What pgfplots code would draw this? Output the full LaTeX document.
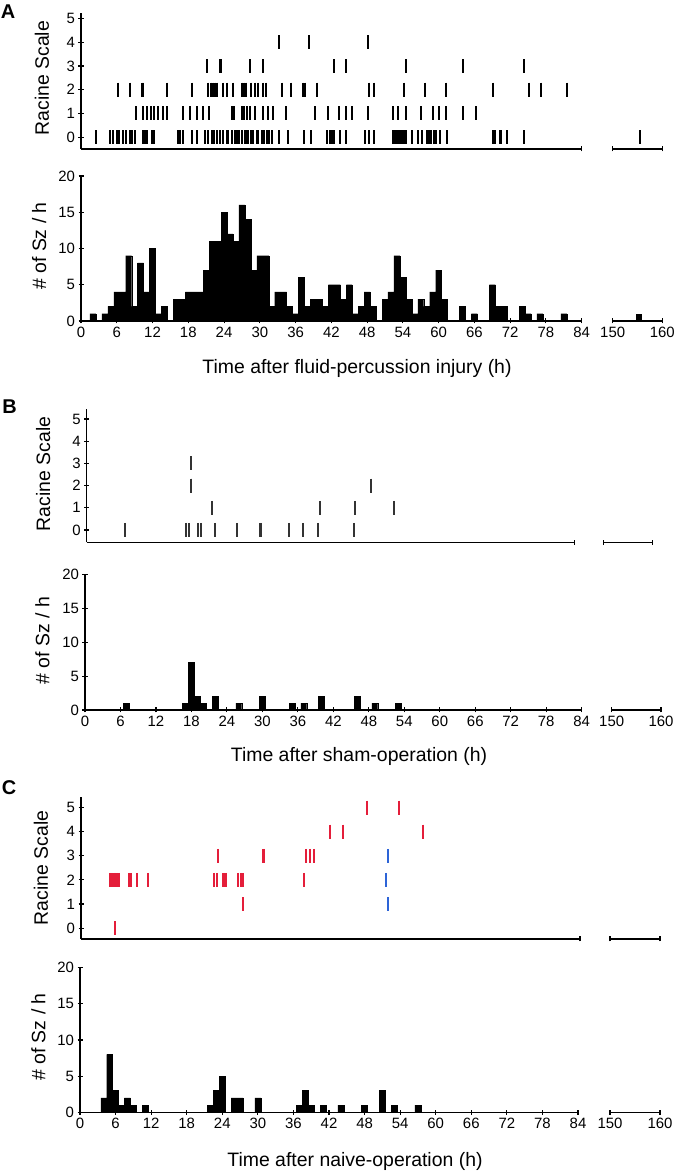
\documentclass[border=0pt]{standalone}
\usepackage{pgfplots}
\pgfplotsset{compat=1.18}
\usepackage{fontspec}
\setmainfont{Liberation Sans}
\definecolor{rred}{RGB}{228,30,58}
\definecolor{rblue}{RGB}{45,100,215}
\pgfplotsset{
  base/.style={scale only axis, anchor=south west, clip=false,
    tick style={line width=1.1bp, black},
    major tick length=5bp, tick align=outside,
    tick label style={font=\fontsize{15}{15}\selectfont},
    /pgf/number format/assume math mode=true,
    ylabel style={font=\fontsize{19.5}{20}\selectfont, anchor=center},
  },
  noarrows/.style={axis line style={line width=1.2bp,-},
    x axis line style={-}, y axis line style={-},
    every outer x axis line/.append style={-},
    every outer y axis line/.append style={-}},
  rast/.style={base, axis x line=bottom, axis y line=left, noarrows, xmin=0, xmax=84, xtick={84}, xticklabels={}, ytick={0,...,5}, ylabel={Racine Scale}},
  rastbrk/.style={base, axis x line=bottom, axis y line=none, noarrows, xmin=150, xmax=160, xtick={150,160}, xticklabels={}},
  hist/.style={base, axis x line=bottom, axis y line=left, noarrows, xmin=0, xmax=84, xtick={0,6,...,84}, ymin=0, ymax=20, ytick={0,5,...,20}, ylabel={\# of Sz / h}},
  histbrk/.style={base, axis x line=bottom, axis y line=none, noarrows, xmin=150, xmax=160, xtick={150,160}, ymin=0, ymax=20},
  tk/.style={only marks, mark=|, mark size=7bp, line width=2bp, mark options={line width=2bp}},
  bars/.style={ybar, bar width=1, fill=black, draw=black, line width=0.3bp},
}
\begin{document}
\begin{tikzpicture}
\useasboundingbox (0,0) rectangle (675bp,1173bp);
% ---------------- Panel A raster
\begin{axis}[rast, at={(81bp,1024bp)}, width=500.7bp, height=136.3bp, ymin=-0.5, ymax=5.25,
  ylabel style={at={(axis description cs:-0.078,0.52)}}]
\addplot[tk, black] table {
x y
2.46 0
4.87 0
5.43 0
5.98 0
6.43 0
6.99 0
7.55 0
8.22 0
8.50 0
9.06 0
10.35 0
10.74 0
11.02 0
11.86 0
12.25 0
16.33 0
16.61 0
17.06 0
18.57 0
19.41 0
20.81 0
21.36 0
21.92 0
22.32 0
22.76 0
23.32 0
23.88 0
24.44 0
24.72 0
25.28 0
25.84 0
26.23 0
26.57 0
26.96 0
27.52 0
27.80 0
28.08 0
28.47 0
28.91 0
29.47 0
29.75 0
30.31 0
30.70 0
31.15 0
31.60 0
31.99 0
33.28 0
34.79 0
37.42 0
38.53 0
41.22 0
41.78 0
42.1 0
42.4 0
43.4 0
44.5 0
47.7 0
48.4 0
49.1 0
52.3 0
52.7 0
53.0 0
53.2 0
53.5 0
53.8 0
54.2 0
54.6 0
55.5 0
56.6 0
57.2 0
58.0 0
58.4 0
58.8 0
59.2 0
59.6 0
60.2 0
61.4 0
69.1 0
69.5 0
70.3 0
70.5 0
71.4 0
74.4 0
9.17 1
10.35 1
11.02 1
11.69 1
12.30 1
12.98 1
13.70 1
14.37 1
17.17 1
18.29 1
19.41 1
20.53 1
21.53 1
25.39 1
25.73 1
27.07 1
27.40 1
27.80 1
28.36 1
29.19 1
30.59 1
31.43 1
32.27 1
34.34 1
39.26 1
41.50 1
43.2 1
44.5 1
45.4 1
48.1 1
52.4 1
53.1 1
54.6 1
57.0 1
59.0 1
60.1 1
61.2 1
64.1 1
66.2 1
6.26 2
8.22 2
10.29 2
10.46 2
14.37 2
18.57 2
21.36 2
21.76 2
22.09 2
22.48 2
22.87 2
23.77 2
24.44 2
25.56 2
27.07 2
27.40 2
27.63 2
28.52 2
29.14 2
29.75 2
30.48 2
31.04 2
33.67 2
35.18 2
37.30 2
37.58 2
39.54 2
48.3 2
49.2 2
54.2 2
57.7 2
61.2 2
69.1 2
75.2 2
77.2 2
81.6 2
21.2 3
23.3 3
23.5 3
28.4 3
30.6 3
42.5 3
44.4 3
54.5 3
64.1 3
74.4 3
33.2 4
38.3 4
48.1 4
};
\end{axis}
\begin{axis}[rastbrk, at={(612.7bp,1024bp)}, width=49.6bp, height=136.3bp, ymin=-0.5, ymax=5.25]
\addplot[tk, black] table {
x y
155.5 0
};
\end{axis}
% ---------------- Panel A histogram
\begin{axis}[hist, at={(81bp,852bp)}, width=500.7bp, height=145bp,
  ylabel style={at={(axis description cs:-0.0835,0.517)}}]
\addplot[bars] table {
x y
2 1
4 1
5 2
6 4
7 4
8 9
9 2
10 8
11 4
12 10
13 1
14 2
16 3
17 3
18 4
19 4
20 4
21 7
22 11
23 11
24 15
25 12
26 11
27 16
28 14
29 7
30 9
31 9
32 2
33 4
34 4
35 2
36 1
37 6
38 2
39 3
40 3
41 2
42 5
43 5
44 3
45 5
46 1
47 2
48 4
49 2
51 3
52 4
53 9
54 6
55 3
56 1
57 3
58 2
59 4
60 7
61 3
64 2
66 1
69 5
70 2
71 2
74 2
75 1
77 1
81 1
};
\end{axis}
\begin{axis}[histbrk, at={(612.7bp,852bp)}, width=49.6bp, height=145bp]
\addplot[bars] table {
x y
155.3 1
};
\end{axis}
% ---------------- Panel B raster
\begin{axis}[rast, at={(86.7bp,630.8bp)}, width=487.6bp, height=133.2bp, ymin=-0.55, ymax=5.45,
  ylabel style={at={(axis description cs:-0.089,0.513)}}]
\addplot[tk, black!80] table {
x y
6.6 0
17.1 0
17.7 0
19.1 0
19.7 0
22.1 0
25.9 0
29.8 0
30.0 0
34.8 0
37.2 0
39.8 0
46.1 0
21.6 1
40.2 1
46.3 1
52.9 1
17.9 2
18.05 2
49.0 2
18.0 3
};
\end{axis}
\begin{axis}[rastbrk, at={(603.3bp,630.8bp)}, width=49.4bp, height=133.2bp, ymin=-0.55, ymax=5.45]
\addplot[draw=none] coordinates {(155,0)};
\end{axis}
% ---------------- Panel B histogram
\begin{axis}[hist, at={(85bp,463bp)}, width=496.7bp, height=135.7bp,
  ylabel style={at={(axis description cs:-0.0856,0.51)}}]
\addplot[bars] table {
x y
7 1
17 1
18 7
19 2
20 1
22 2
26 1
30 2
35 1
37 1
40 2
46 2
49 1
53 1
};
\end{axis}
\begin{axis}[histbrk, at={(611.7bp,463bp)}, width=49.3bp, height=135.7bp]
\addplot[draw=none] coordinates {(155,0)};
\end{axis}
% ---------------- Panel C raster
\begin{axis}[rast, at={(81bp,234bp)}, width=499bp, height=142.3bp, ymin=-0.45, ymax=5.45,
  ylabel style={at={(axis description cs:-0.0805,0.5)}}]
\addplot[tk, rred] table {
x y
5.7 0
27.2 1
4.9 2
5.1 2
5.3 2
5.5 2
5.7 2
6.0 2
6.4 2
8.0 2
8.25 2
8.5 2
9.4 2
11.2 2
22.4 2
22.9 2
23.9 2
24.1 2
24.4 2
26.5 2
26.9 2
27.2 2
37.5 2
23.0 3
30.6 3
30.8 3
37.9 3
38.6 3
39.2 3
41.9 4
44.1 4
57.5 4
48.1 5
53.5 5
};
\addplot[tk, rblue] table {
x y
51.6 1
51.3 2
51.6 3
};
\end{axis}
\begin{axis}[rastbrk, at={(610bp,234bp)}, width=50bp, height=142.3bp, ymin=-0.45, ymax=5.45]
\addplot[draw=none] coordinates {(155,0)};
\end{axis}
% ---------------- Panel C histogram
\begin{axis}[hist, at={(80bp,60.7bp)}, width=498bp, height=144.6bp,
  ylabel style={at={(axis description cs:-0.0837,0.52)}}]
\addplot[bars] table {
x y
4 2
5 8
6 3
7 1
8 2
9 1
11 1
22 1
23 3
24 5
26 2
27 2
30 2
37 1
38 3
39 1
41 1
44 1
48 1
51 3
53 1
57 1
};
\end{axis}
\begin{axis}[histbrk, at={(610bp,60.7bp)}, width=50bp, height=144.6bp]
\addplot[draw=none] coordinates {(155,0)};
\end{axis}
% ---------------- labels
\node[font=\bfseries\fontsize{20}{20}\selectfont] at (8bp,1161bp) {A};
\node[font=\bfseries\fontsize{20}{20}\selectfont] at (9.5bp,766.5bp) {B};
\node[font=\bfseries\fontsize{20}{20}\selectfont] at (9bp,385.5bp) {C};
\node[font=\fontsize{19.5}{20}\selectfont] at (357bp,805bp) {Time after fluid-percussion injury (h)};
\node[font=\fontsize{19.5}{20}\selectfont] at (359bp,417bp) {Time after sham-operation (h)};
\node[font=\fontsize{19.5}{20}\selectfont] at (355bp,12bp) {Time after naive-operation (h)};
\end{tikzpicture}
\end{document}
